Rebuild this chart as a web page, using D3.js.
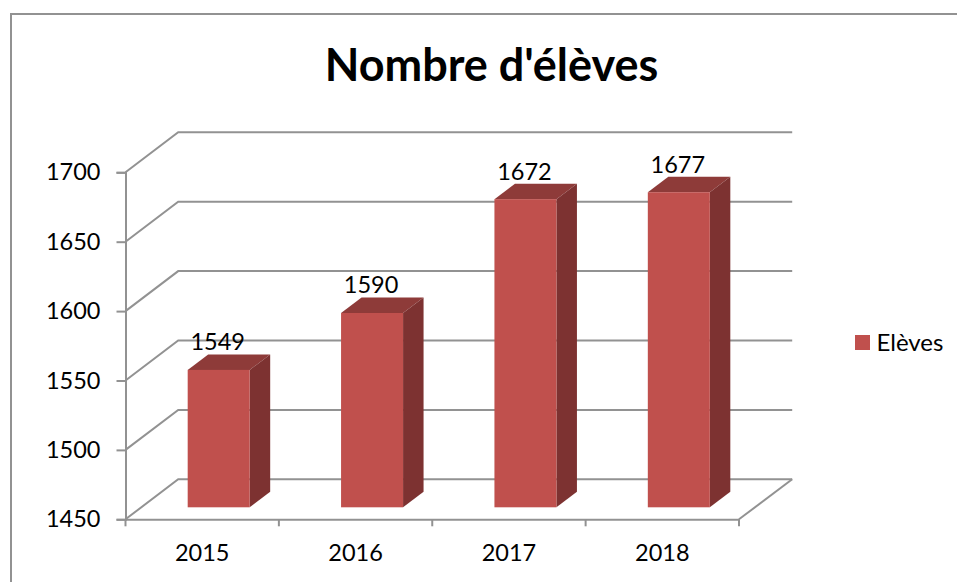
<!DOCTYPE html>
<html>
<head>
<meta charset="utf-8">
<script src="https://cdn.jsdelivr.net/npm/d3@7"></script>
<style>
  html, body { margin: 0; padding: 0; background: #fff; }
  svg { display: block; font-family: Lato, "Open Sans", sans-serif; }
  text { fill: #000; }
</style>
</head>
<body>
<div id="chart"></div>
<script>
var years = ["2015", "2016", "2017", "2018"];
var eleves = [1549, 1590, 1672, 1677];
var yTicks = [1450, 1500, 1550, 1600, 1650, 1700];

var width = 957, height = 582;
var left = 125.5, right = 739, bottom = 519.3, top_ = 172.3;
// 3d offset of the back wall, and depth of a bar
var wallX = 52.7, wallY = -40;
var depthX = 20.5, depthY = -15.5;
var barW = 62, barShift = 16.5, barLift = 12;
var gray = "#929292";

var svg = d3.select("#chart").append("svg")
  .attr("width", width)
  .attr("height", height);

var x = d3.scaleBand().domain(years).range([left, right]);
var y = d3.scaleLinear().domain([1450, 1700]).range([bottom, top_]);

// frame, only top and left show in the picture
svg.append("path")
  .attr("d", "M11,582V14H957")
  .attr("fill", "none")
  .attr("stroke", gray)
  .attr("stroke-width", 2);

svg.append("text")
  .attr("x", 491.5)
  .attr("y", 81)
  .attr("text-anchor", "middle")
  .attr("font-size", 45)
  .attr("font-weight", 700)
  .text("Nombre d'élèves");

// gridlines: side wall then back wall
svg.selectAll(".grid")
  .data(yTicks)
  .join("path")
  .attr("class", "grid")
  .attr("fill", "none")
  .attr("stroke", gray)
  .attr("stroke-width", 2)
  .attr("d", function (d) {
    return "M" + left + "," + y(d) + "L" + (left + wallX) + "," + (y(d) + wallY) + "H" + (right + wallX + 0.5);
  });

// right edge of the floor
svg.append("path")
  .attr("d", "M" + right + "," + bottom + "L" + (right + wallX + 0.5) + "," + (bottom + wallY))
  .attr("fill", "none")
  .attr("stroke", gray)
  .attr("stroke-width", 2);

var yAxis = svg.append("g")
  .attr("transform", "translate(" + left + ",0)")
  .call(d3.axisLeft(y).tickValues(yTicks).tickFormat(d3.format("d")).tickSize(9).tickPadding(16));
yAxis.selectAll("text").attr("font-size", 23.5).attr("font-family", "Lato").attr("dy", "0.32em");

var xAxis = svg.append("g")
  .attr("transform", "translate(0," + bottom + ")")
  .call(d3.axisBottom(x).tickSize(0).tickPadding(25.5));
xAxis.selectAll("text").attr("font-size", 23.5).attr("font-family", "Lato");

// category separators sit between the bands
svg.selectAll(".xtick")
  .data(years.concat("end"))
  .join("line")
  .attr("class", "xtick")
  .attr("x1", function (d, i) { return left + i * x.step(); })
  .attr("x2", function (d, i) { return left + i * x.step(); })
  .attr("y1", bottom)
  .attr("y2", bottom + 7)
  .attr("stroke", gray)
  .attr("stroke-width", 2);

[yAxis, xAxis].forEach(function (a) {
  a.selectAll(".domain, .tick line").attr("stroke", gray).attr("stroke-width", 2);
});

var bars = svg.selectAll(".bar")
  .data(eleves)
  .join("g")
  .attr("class", "bar");

function bx(i) { return x(years[i]) + x.bandwidth() / 2 - barW / 2 + barShift; }
var by0 = y(1450) - barLift;

// top face
bars.append("path")
  .attr("fill", "#8e3b39")
  .attr("d", function (d, i) {
    var t = y(d) - barLift;
    return "M" + bx(i) + "," + t + "l" + depthX + "," + depthY + "h" + barW + "l" + (-depthX) + "," + (-depthY) + "z";
  });

// side face
bars.append("path")
  .attr("fill", "#7d3231")
  .attr("d", function (d, i) {
    var t = y(d) - barLift;
    return "M" + (bx(i) + barW) + "," + t + "l" + depthX + "," + depthY + "V" + (by0 + depthY) + "l" + (-depthX) + "," + (-depthY) + "z";
  });

// front face
bars.append("rect")
  .attr("fill", "#c0504d")
  .attr("x", function (d, i) { return bx(i); })
  .attr("y", function (d) { return y(d) - barLift; })
  .attr("width", barW)
  .attr("height", function (d) { return by0 - (y(d) - barLift); });

bars.append("text")
  .attr("x", function (d, i) { return bx(i) + barW / 2 - 1; })
  .attr("y", function (d) { return y(d) - barLift - 19.5; })
  .attr("text-anchor", "middle")
  .attr("font-size", 23.5)
  .text(function (d) { return d; });

// legend
svg.append("rect")
  .attr("x", 855)
  .attr("y", 335)
  .attr("width", 15)
  .attr("height", 15)
  .attr("fill", "#c0504d");

svg.append("text")
  .attr("x", 876.5)
  .attr("y", 350.5)
  .attr("font-size", 24)
  .text("Elèves");
</script>
</body>
</html>
